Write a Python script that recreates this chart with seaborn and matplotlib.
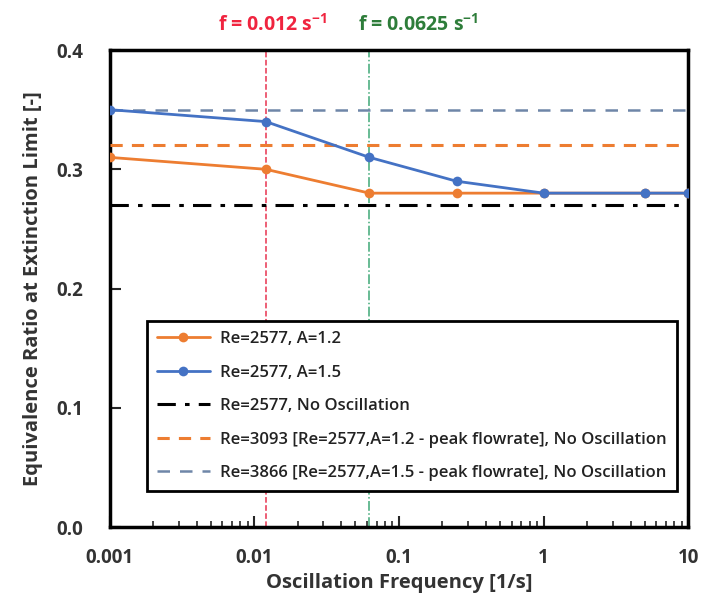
import matplotlib
matplotlib.use("Agg")
import matplotlib.pyplot as plt
import seaborn as sns
import pandas as pd
from matplotlib.ticker import LogLocator, NullFormatter, FixedLocator

# data
freq = [0.001, 0.012, 0.0625, 0.25, 1, 5, 10]
phi_a12 = [0.31, 0.30, 0.28, 0.28, 0.28, 0.28, 0.28]
phi_a15 = [0.35, 0.34, 0.31, 0.29, 0.28, 0.28, 0.28]

ref_levels = [0.27, 0.32, 0.35]
ref_labels = ['Re=2577, No Oscillation',
              'Re=3093 [Re=2577,A=1.2 - peak flowrate], No Oscillation',
              'Re=3866 [Re=2577,A=1.5 - peak flowrate], No Oscillation']

mark_freq = [0.012, 0.0625]
mark_text = ['f = 0.012 s$^{-1}$', 'f = 0.0625 s$^{-1}$']
mark_text_x = [0.0135, 0.135]

orange = '#ED7D31'
blue = '#4472C4'
ref_colors = ['black', orange, '#6F86A8']
ref_styles = [(0, (6, 3, 1.5, 3)), (0, (4, 3)), (0, (5, 4))]
mark_colors = ['#E8334F', '#3FA877']
mark_text_colors = ['#F0243F', '#2E7D3A']

df = pd.DataFrame({
    'freq': freq * 2,
    'phi': phi_a12 + phi_a15,
    'case': ['Re=2577, A=1.2'] * len(freq) + ['Re=2577, A=1.5'] * len(freq),
})

sns.set_style('white')
plt.rcParams['font.family'] = ['Open Sans', 'DejaVu Sans']
plt.rcParams['mathtext.default'] = 'regular'

fig = plt.figure(figsize=(7.03, 6.03), dpi=100)
ax = fig.add_axes([0.156, 0.126, 0.823, 0.791])

sns.lineplot(data=df, x='freq', y='phi', hue='case',
             palette=[orange, blue], marker='o', markersize=7,
             markeredgewidth=0, linewidth=2, ax=ax, zorder=4)

for lvl, lab, c, ls in zip(ref_levels, ref_labels, ref_colors, ref_styles):
    ax.axhline(lvl, color=c, linestyle=ls, linewidth=2.2 if c != ref_colors[2] else 1.8,
               label=lab, zorder=3)

for f, c, ls in zip(mark_freq, mark_colors, ['--', '-.']):
    ax.axvline(f, color=c, linestyle=ls, linewidth=1.1, zorder=2)

for x, t, c in zip(mark_text_x, mark_text, mark_text_colors):
    ax.text(x, 1.03, t, transform=ax.get_xaxis_transform(), ha='center',
            va='bottom', color=c, fontsize=14, fontweight='bold')

ax.set_xscale('log')
ax.set_xlim(0.001, 10)
ax.set_ylim(0, 0.4)
ax.yaxis.set_major_locator(FixedLocator([0.0, 0.1, 0.2, 0.3, 0.4]))
ax.set_yticklabels(['0.0', '0.1', '0.2', '0.3', '0.4'])
ax.xaxis.set_major_locator(FixedLocator([0.001, 0.01, 0.1, 1, 10]))
ax.set_xticklabels(['0.001', '0.01', '0.1', '1', '10'])
ax.xaxis.set_minor_locator(LogLocator(base=10, subs=range(2, 10)))
ax.xaxis.set_minor_formatter(NullFormatter())

ax.tick_params(axis='both', which='major', direction='in', length=8, width=1.5,
               labelsize=13.5, labelcolor='#333333')
ax.tick_params(axis='x', which='major', pad=15, bottom=True)
ax.tick_params(axis='y', which='major', pad=19, left=True)
ax.tick_params(axis='x', which='minor', direction='in', length=4, width=1.2,
               bottom=True)
for lab in ax.get_xticklabels() + ax.get_yticklabels():
    lab.set_fontweight('bold')

for sp in ax.spines.values():
    sp.set_color('black')
    sp.set_linewidth(2.5)

ax.set_xlabel('Oscillation Frequency [1/s]', fontsize=14.5, fontweight='bold',
              color='#333333', labelpad=4)
ax.set_ylabel('Equivalence Ratio at Extinction Limit [-]', fontsize=14.5,
              fontweight='bold', color='#333333', labelpad=10)

handles, labels = ax.get_legend_handles_labels()
leg = ax.legend(handles, labels, loc='lower left', bbox_to_anchor=(0.064, 0.075),
                borderaxespad=0, frameon=True, fancybox=False, fontsize=12,
                framealpha=1, edgecolor='black', handlelength=3.2,
                borderpad=0.6, labelspacing=1.05, handletextpad=0.6)
leg.get_frame().set_linewidth(2)
for t in leg.get_texts():
    t.set_fontweight('semibold')
    t.set_color('#222222')
leg.set_zorder(5)

fig.savefig('out.png', dpi=100)
